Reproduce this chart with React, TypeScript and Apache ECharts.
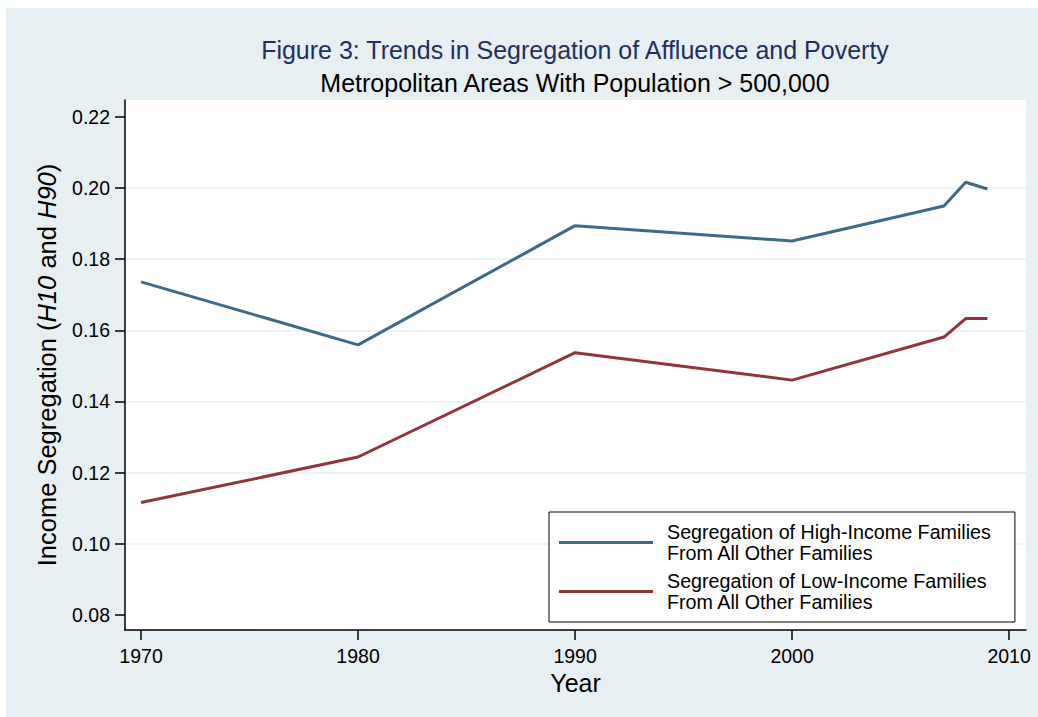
import React, { useEffect, useRef } from "react";
import * as echarts from "echarts";

const years = [1970, 1980, 1990, 2000, 2007, 2008, 2009];
const highIncome = [0.1736, 0.1559, 0.1894, 0.1851, 0.1949, 0.2016, 0.1997];
const lowIncome = [0.1116, 0.1244, 0.1537, 0.146, 0.1581, 0.1633, 0.1633];
const xTicks = [1970, 1980, 1990, 2000, 2010];
const yTicks = [0.08, 0.1, 0.12, 0.14, 0.16, 0.18, 0.2, 0.22];
const seriesNames = [
  "Segregation of High-Income Families\nFrom All Other Families",
  "Segregation of Low-Income Families\nFrom All Other Families",
];
const titleText = "Figure 3: Trends in Segregation of Affluence and Poverty";
const subtitleText = "Metropolitan Areas With Population > 500,000";

const FONT = "'Liberation Sans', Arial, Helvetica, sans-serif";

export default function App() {
  const ref = useRef<HTMLDivElement>(null);
  useEffect(() => {
    if (!ref.current) return;
    const chart = echarts.init(ref.current, null, { renderer: "svg" });
    const gridColors = yTicks.map((v, i) =>
      i === 0 || i === yTicks.length - 1 ? "rgba(0,0,0,0)" : "#e6eff2"
    );
    chart.setOption({
      animation: false,
      backgroundColor: "#e8eff2",
      textStyle: { fontFamily: FONT },
      title: [
        {
          text: titleText,
          left: 569,
          top: 29,
          textAlign: "center",
          padding: 0,
          textStyle: { fontFamily: FONT, fontSize: 25, fontWeight: "normal", color: "#1f2f5e" },
        },
        {
          text: subtitleText,
          left: 569,
          top: 62,
          textAlign: "center",
          padding: 0,
          textStyle: { fontFamily: FONT, fontSize: 25, fontWeight: "normal", color: "#000" },
        },
      ],
      grid: {
        left: 119,
        top: 92,
        right: 12,
        bottom: 87,
        show: true,
        backgroundColor: "#ffffff",
        borderWidth: 0,
        containLabel: false,
      },
      legend: {
        orient: "vertical",
        left: 543,
        top: 504,
        padding: [10, 24, 10, 10],
        backgroundColor: "#ffffff",
        borderColor: "#000000",
        borderWidth: 1,
        borderRadius: 0,
        icon: "rect",
        itemWidth: 94,
        itemHeight: 3,
        itemGap: 8,
        data: seriesNames,
        textStyle: {
          fontFamily: FONT,
          fontSize: 19.7,
          lineHeight: 20.5,
          color: "#000",
          padding: [0, 0, 0, 9],
        },
      },
      xAxis: {
        type: "value",
        min: 1969.26,
        max: 2010.78,
        name: "Year",
        nameLocation: "middle",
        nameGap: 35,
        nameTextStyle: { fontFamily: FONT, fontSize: 25, color: "#000" },
        axisLine: { show: true, lineStyle: { color: "#000", width: 1.5 } },
        axisTick: { show: true, length: 10, lineStyle: { color: "#000", width: 1.5 }, customValues: xTicks },
        axisLabel: {
          customValues: xTicks,
          fontFamily: FONT,
          fontSize: 19.5,
          color: "#000",
          margin: 16,
          formatter: (v: number) => String(v),
        },
        splitLine: { show: false },
      },
      yAxis: {
        type: "value",
        min: 0.0758,
        max: 0.2247,
        name: "Income Segregation ({i|H10} and {i|H90})",
        nameLocation: "middle",
        nameGap: 65,
        nameTextStyle: {
          fontFamily: FONT,
          fontSize: 25.5,
          color: "#000",
          rich: { i: { fontFamily: FONT, fontSize: 25.5, fontStyle: "italic", color: "#000" } },
        },
        axisLine: { show: true, lineStyle: { color: "#000", width: 1.5 } },
        axisTick: { show: true, length: 10, lineStyle: { color: "#000", width: 1.5 }, customValues: yTicks },
        axisLabel: {
          customValues: yTicks,
          fontFamily: FONT,
          fontSize: 19.5,
          color: "#000",
          margin: 15,
          formatter: (v: number) => v.toFixed(2),
        },
        splitLine: { show: true, lineStyle: { color: gridColors, width: 1.5 } },
      },
      series: [
        {
          name: seriesNames[0],
          type: "line",
          symbol: "none",
          data: years.map((y, i) => [y, highIncome[i]]),
          lineStyle: { color: "#3e6a87", width: 3 },
          itemStyle: { color: "#3e6a87" },
        },
        {
          name: seriesNames[1],
          type: "line",
          symbol: "none",
          data: years.map((y, i) => [y, lowIncome[i]]),
          lineStyle: { color: "#90353b", width: 3 },
          itemStyle: { color: "#90353b" },
        },
      ],
    });
    return () => chart.dispose();
  }, []);
  return (
    <div
      ref={ref}
      style={{ position: "fixed", left: 6, top: 8, width: 1032, height: 709 }}
    />
  );
}
